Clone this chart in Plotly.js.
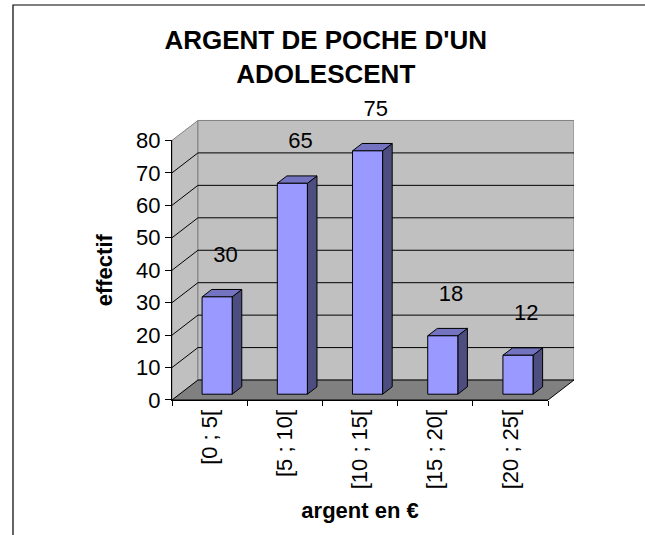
<!DOCTYPE html>
<html>
<head>
<meta charset="utf-8">
<script src="https://cdn.plot.ly/plotly-3.0.1.min.js"></script>
<style>html,body{margin:0;padding:0;background:#fff;}#chart{width:645px;height:535px;}</style>
</head>
<body>
<div id="chart"></div>
<script>
// ---- data ----
const categories = ['[0 ; 5[', '[5 ; 10[', '[10 ; 15[', '[15 ; 20[', '[20 ; 25['];
const effectifs = [30, 65, 75, 18, 12];
const yTickValues = [0, 10, 20, 30, 40, 50, 60, 70, 80];
const titleText = "ARGENT DE POCHE D'UN<br>ADOLESCENT";
const xTitle = 'argent en €';
const yTitle = 'effectif';

// ---- geometry (pseudo 3D) ----
const W = 645, H = 535;
const YMAX = 80, YTOP = 94;            // main y range top leaves room for value labels
const PXY = 3.25;                      // px per y unit
const ML = 172, MR = 71, MB = 135;
const MT = Math.round(H - MB - YTOP * PXY);
const PW = W - ML - MR, PH = H - MT - MB;
const N = categories.length;
const DX = 0.345, DY = 6.154;          // full depth offset in axis units
const F0 = 0.29, F1 = 0.66;            // bar depth fractions
const BW = 0.4;                        // bar width
const FONT = 'Liberation Sans, Arial, sans-serif';
const px2paperX = p => (p - ML) / PW;
const px2paperY = p => (H - MB - p) / PH;

const shapes = [];
// side wall
shapes.push({type:'path', xref:'x', yref:'y', layer:'below',
  path:`M0,0 L${DX},${DY} L${DX},${YMAX+DY} L0,${YMAX} Z`,
  fillcolor:'#C0C0C0', line:{color:'#808080', width:1}});
// back wall
shapes.push({type:'rect', xref:'x', yref:'y', layer:'below',
  x0:DX, x1:N+DX, y0:DY, y1:YMAX+DY,
  fillcolor:'#C0C0C0', line:{color:'#808080', width:1}});
// gridlines
yTickValues.forEach(t => {
  if (t > 0 && t < YMAX) {
    shapes.push({type:'line', xref:'x', yref:'y', layer:'below',
      x0:0, y0:t, x1:DX, y1:t+DY, line:{color:'#000', width:1}});
    shapes.push({type:'line', xref:'x', yref:'y', layer:'below',
      x0:DX, y0:t+DY, x1:N+DX, y1:t+DY, line:{color:'#000', width:1}});
  }
});
// floor
shapes.push({type:'path', xref:'x', yref:'y', layer:'below',
  path:`M0,0 L${N},0 L${N+DX},${DY} L${DX},${DY} Z`,
  fillcolor:'#808080', line:{color:'#000', width:1}});
// outer frame (right and bottom edges fall outside the picture)
shapes.push({type:'rect', xref:'paper', yref:'paper', layer:'above',
  x0:px2paperX(13), x1:px2paperX(W+60), y0:px2paperY(H+60), y1:px2paperY(5),
  fillcolor:'rgba(0,0,0,0)', line:{color:'#000', width:1.2}});

// ---- bar top & side faces from data ----
const topX = [], topY = [], sideX = [], sideY = [];
const ox = F0 * DX, oy = F0 * DY, ddx = (F1 - F0) * DX, ddy = (F1 - F0) * DY;
effectifs.forEach((v, i) => {
  const x0 = i + 0.5 - BW / 2 + ox, x1 = x0 + BW;
  const yb = oy, yt = v + oy;
  topX.push(x0, x1, x1 + ddx, x0 + ddx, x0, null);
  topY.push(yt, yt, yt + ddy, yt + ddy, yt, null);
  sideX.push(x1, x1 + ddx, x1 + ddx, x1, x1, null);
  sideY.push(yb, yb + ddy, yt + ddy, yt, yb, null);
});

const traces = [
  {type:'scatter', x:sideX, y:sideY, xaxis:'x', yaxis:'y', mode:'lines', fill:'toself',
   fillcolor:'#4D4D80', line:{color:'#000', width:1}, hoverinfo:'skip', showlegend:false},
  {type:'scatter', x:topX, y:topY, xaxis:'x', yaxis:'y', mode:'lines', fill:'toself',
   fillcolor:'#7373BF', line:{color:'#000', width:1}, hoverinfo:'skip', showlegend:false},
  {type:'scatter', mode:'text', xaxis:'x', yaxis:'y',
   x: effectifs.map((v, i) => i + 0.5 + 0.21),
   y: effectifs.map(v => v + 14.3),
   text: effectifs.map(String), textposition:'middle center',
   textfont:{family:FONT, size:22, color:'#000'}, cliponaxis:false,
   hoverinfo:'skip', showlegend:false},
  {type:'bar', x:categories, y:effectifs, xaxis:'x2', yaxis:'y2',
   base: oy, offset: -BW / 2 + ox, width: BW,
   marker:{color:'#9999FF', line:{color:'#000', width:1}},
   hoverinfo:'skip', showlegend:false}
];

const layout = {
  width:W, height:H, autosize:false,
  margin:{l:ML, r:MR, t:MT, b:MB, pad:0},
  paper_bgcolor:'#fff', plot_bgcolor:'rgba(0,0,0,0)',
  font:{family:FONT, color:'#000'},
  showlegend:false,
  title:{text:titleText, font:{family:FONT, size:26, color:'#000', weight:'bold'},
         x:0.505, xanchor:'center', xref:'container', y:1 - 49 / H, yanchor:'top', yref:'container'},
  xaxis:{visible:false, range:[0, N + DX], domain:[0, 1], fixedrange:true},
  yaxis:{visible:false, range:[0, YTOP], domain:[0, 1], fixedrange:true},
  xaxis2:{type:'category', categoryorder:'array', categoryarray:categories,
    range:[-0.5, N - 0.5], domain:[0, N / (N + DX)], anchor:'y2',
    tickson:'boundaries', ticks:'outside', ticklen:5, tickcolor:'#000', tickwidth:1,
    tickangle:-90, tickfont:{family:FONT, size:22, color:'#000'},
    showline:true, linecolor:'#000', linewidth:1, showgrid:false, zeroline:false,
    title:{text:xTitle, font:{family:FONT, size:22, color:'#000', weight:'bold'}, standoff:14}},
  yaxis2:{range:[0, YMAX], domain:[0, YMAX / YTOP], anchor:'x2',
    tickmode:'array', tickvals:yTickValues, ticks:'outside', ticklen:6, tickcolor:'#000',
    tickfont:{family:FONT, size:22, color:'#000'},
    showline:true, linecolor:'#000', linewidth:1, showgrid:false, zeroline:false,
    title:{text:yTitle, font:{family:FONT, size:22, color:'#000', weight:'bold'}, standoff:17}},
  shapes:shapes
};

Plotly.newPlot('chart', traces, layout, {staticPlot:true, displayModeBar:false});
</script>
</body>
</html>
